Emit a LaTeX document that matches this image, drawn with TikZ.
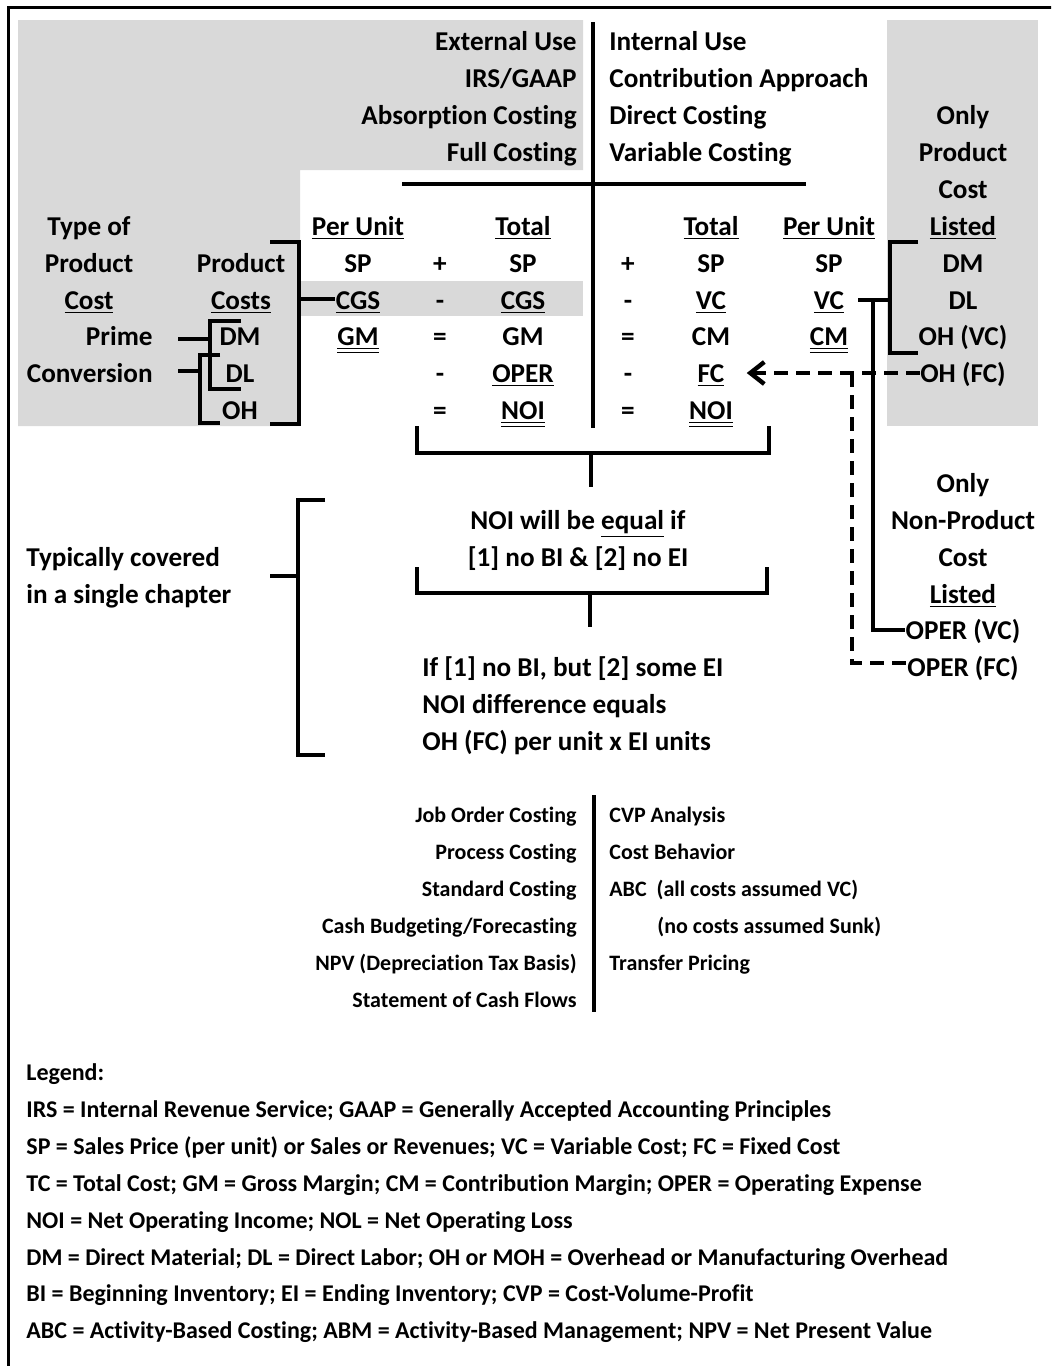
\documentclass[tikz,border=0pt]{standalone}
\usepackage{fontspec}
\setmainfont{Carlito}[Ligatures=NoCommon]
\usetikzlibrary{arrows.meta}
\definecolor{panelgray}{HTML}{D9D9D9}
\newcommand{\ul}[1]{\underline{#1}}
\newcommand{\dul}[1]{\underline{\underline{#1}}}
\tikzset{
  lbl/.style={font=\fontsize{13.6}{16}\selectfont\bfseries, inner sep=0pt, anchor=base},
  lblr/.style={lbl, anchor=base east},
  lbll/.style={lbl, anchor=base west},
  topic/.style={font=\fontsize{11}{13}\selectfont\bfseries, inner sep=0pt},
  legend/.style={font=\fontsize{12}{14}\selectfont\bfseries, inner sep=0pt, anchor=base west},
  bar/.style={line width=2pt},
  dashbar/.style={line width=2.2pt, dash pattern=on 7pt off 4pt},
}
\begin{document}
\begin{tikzpicture}[x=0.5pt, y=-0.5pt]
    \useasboundingbox (0,0) rectangle (1051,1366);
    % frame and grey panels
    \begin{scope}
    \clip (0,0) rectangle (1051,1366);
    \draw[line width=1.5pt] (8,7) rectangle (1100,1400);
    \end{scope}
    \fill[panelgray] (18,20) -- (583,20) -- (583,170) -- (300,170) -- (300,426) -- (18,426) -- cycle;
    \fill[panelgray] (300,281) rectangle (583,316);
    \fill[panelgray] (887,20) rectangle (1038,426);
    % headings
    \node[lblr] (extuse) at (577,50) {External Use};
    \node[lblr] (irs) at (577,87) {IRS/GAAP};
    \node[lblr] (absorb) at (577,124) {Absorption Costing};
    \node[lblr] (fullc) at (577,161) {Full Costing};
    \node[lbll] (intuse) at (609,50) {Internal Use};
    \node[lbll] (contrib) at (609,87) {Contribution Approach};
    \node[lbll] (direct) at (609,124) {Direct Costing};
    \node[lbll] (varc) at (609,161) {Variable Costing};
    \draw[bar] (593,22) -- (593,428);
    \draw[bar] (402,184) -- (806,184);
    % left block
    \node[lbl] (typeof) at (89,235) {Type of};
    \node[lbl] (typeprod) at (89,272) {Product};
    \node[lbl] (typecost) at (89,309) {\ul{Cost}};
    \node[lbl] (prodc) at (241,272) {Product};
    \node[lbl] (costs) at (241,309) {\ul{Costs}};
    \node[lblr] (prime) at (153,345) {Prime};
    \node[lblr] (conv) at (153,382) {Conversion};
    \node[lbl] (dm) at (240,345) {DM};
    \node[lbl] (dl) at (240,382) {DL};
    \node[lbl] (oh) at (240,419) {OH};
    % absorption statement
    \node[lbl] (pu1) at (358,235) {\ul{Per Unit}};
    \node[lbl] (sp1) at (358,272) {SP};
    \node[lbl] (cgs1) at (358,309) {\ul{CGS}};
    \node[lbl] (gm1) at (358,345) {\dul{GM}};
    \node[lbl] (opa) at (440,272) {+};
    \node[lbl] (opb) at (440,309) {-};
    \node[lbl] (opc) at (440,345) {=};
    \node[lbl] (opd) at (440,382) {-};
    \node[lbl] (ope) at (440,419) {=};
    \node[lbl] (tot1) at (523,235) {\ul{Total}};
    \node[lbl] (sp2) at (523,272) {SP};
    \node[lbl] (cgs2) at (523,309) {\ul{CGS}};
    \node[lbl] (gm2) at (523,345) {GM};
    \node[lbl] (oper1) at (523,382) {\ul{OPER}};
    \node[lbl] (noi1) at (523,419) {\dul{NOI}};
    % variable statement
    \node[lbl] (opf) at (628,272) {+};
    \node[lbl] (opg) at (628,309) {-};
    \node[lbl] (oph) at (628,345) {=};
    \node[lbl] (opi) at (628,382) {-};
    \node[lbl] (opj) at (628,419) {=};
    \node[lbl] (tot2) at (711,235) {\ul{Total}};
    \node[lbl] (sp3) at (711,272) {SP};
    \node[lbl] (vc1) at (711,309) {\ul{VC}};
    \node[lbl] (cm1) at (711,345) {CM};
    \node[lbl] (fc) at (711,382) {\ul{FC}};
    \node[lbl] (noi2) at (711,419) {\dul{NOI}};
    \node[lbl] (pu2) at (829,235) {\ul{Per Unit}};
    \node[lbl] (sp4) at (829,272) {SP};
    \node[lbl] (vc2) at (829,309) {\ul{VC}};
    \node[lbl] (cm2) at (829,345) {\dul{CM}};
    % right block
    \node[lbl] (only1) at (963,124) {Only};
    \node[lbl] (prod2) at (963,161) {Product};
    \node[lbl] (cost2) at (963,198) {Cost};
    \node[lbl] (listed1) at (963,235) {\ul{Listed}};
    \node[lbl] (dm2) at (963,272) {DM};
    \node[lbl] (dl2) at (963,309) {DL};
    \node[lbl] (ohvc) at (963,345) {OH (VC)};
    \node[lbl] (ohfc) at (963,382) {OH (FC)};
    \node[lbl] (only2) at (963,492) {Only};
    \node[lbl] (nonprod) at (963,529) {Non-Product};
    \node[lbl] (cost3) at (963,566) {Cost};
    \node[lbl] (listed2) at (963,603) {\ul{Listed}};
    \node[lbl] (opervc) at (963,639) {OPER (VC)};
    \node[lbl] (operfc) at (963,676) {OPER (FC)};
    % brackets
    \draw[bar] (270,242) -- (299,242) -- (299,424) -- (270,424);
    \draw[bar] (299,299) -- (cgs1.west |- 0,299);
    \draw[bar] (241,321) -- (210,321) -- (210,389) -- (241,389);
    \draw[bar] (178,339) -- (210,339);
    \draw[bar] (220,355) -- (200,355) -- (200,423) -- (220,423);
    \draw[bar] (178,371) -- (200,371);
    \draw[bar] (918,242) -- (890,242) -- (890,353) -- (918,353);
    \draw[bar] (858,300) -- (890,300);
    \draw[bar] (873,300) -- (873,630) -- (opervc.west |- 0,630);
    \draw[dashbar, shorten >=11pt, -{Straight Barb[length=7pt, width=11pt]}] (ohfc.west |- 0,373) -- (fc.east |- 0,373);
    \draw[dashbar] (852,373) -- (852,663) -- (operfc.west |- 0,663);
    % conclusions
    \draw[bar] (417,426) -- (417,453) -- (769,453) -- (769,426);
    \draw[bar] (591,453) -- (591,487);
    \node[lbl] (equal1) at (578,529) {NOI will be \ul{equal} if};
    \node[lbl] (equal2) at (578,566) {[1] no BI \& [2] no EI};
    \draw[bar] (417,567) -- (417,593) -- (767,593) -- (767,567);
    \draw[bar] (590,593) -- (590,627);
    \node[lbll] (diff1) at (422,676) {If [1] no BI, but [2] some EI};
    \node[lbll] (diff2) at (422,713) {NOI difference equals};
    \node[lbll] (diff3) at (422,750) {OH (FC) per unit x EI units};
    \node[lbll] (typ1) at (26,566) {Typically covered};
    \node[lbll] (typ2) at (26,603) {in a single chapter};
    \draw[bar] (325,500) -- (298,500) -- (298,755) -- (325,755);
    \draw[bar] (270,576) -- (298,576);
    % chapter topics
    \draw[bar] (594,795) -- (594,1012);
    \node[topic, anchor=base east] (job) at (577,822) {Job Order Costing};
    \node[topic, anchor=base east] (process) at (577,859) {Process Costing};
    \node[topic, anchor=base east] (standard) at (577,896) {Standard Costing};
    \node[topic, anchor=base east] (cashbud) at (577,933) {Cash Budgeting/Forecasting};
    \node[topic, anchor=base east] (npv) at (577,970) {NPV (Depreciation Tax Basis)};
    \node[topic, anchor=base east] (cashflow) at (577,1007) {Statement of Cash Flows};
    \node[topic, anchor=base west] (cvp) at (609,822) {CVP Analysis};
    \node[topic, anchor=base west] (behav) at (609,859) {Cost Behavior};
    \node[topic, anchor=base west] (abc) at (609,896) {ABC\ \ (all costs assumed VC)};
    \node[topic, anchor=base west] (sunk) at (657,933) {(no costs assumed Sunk)};
    \node[topic, anchor=base west] (transfer) at (609,970) {Transfer Pricing};
    % legend
    \node[legend] (leg0) at (26,1080) {Legend:};
    \node[legend] (leg1) at (26,1117) {IRS = Internal Revenue Service; GAAP = Generally Accepted Accounting Principles};
    \node[legend] (leg2) at (26,1154) {SP = Sales Price (per unit) or Sales or Revenues; VC = Variable Cost; FC = Fixed Cost};
    \node[legend] (leg3) at (26,1191) {TC = Total Cost; GM = Gross Margin; CM = Contribution Margin; OPER = Operating Expense};
    \node[legend] (leg4) at (26,1228) {NOI = Net Operating Income; NOL = Net Operating Loss};
    \node[legend] (leg5) at (26,1265) {DM = Direct Material; DL = Direct Labor; OH or MOH = Overhead or Manufacturing Overhead};
    \node[legend] (leg6) at (26,1301) {BI = Beginning Inventory; EI = Ending Inventory; CVP = Cost-Volume-Profit};
    \node[legend] (leg7) at (26,1338) {ABC = Activity-Based Costing; ABM = Activity-Based Management; NPV = Net Present Value};
\end{tikzpicture}
\end{document}
